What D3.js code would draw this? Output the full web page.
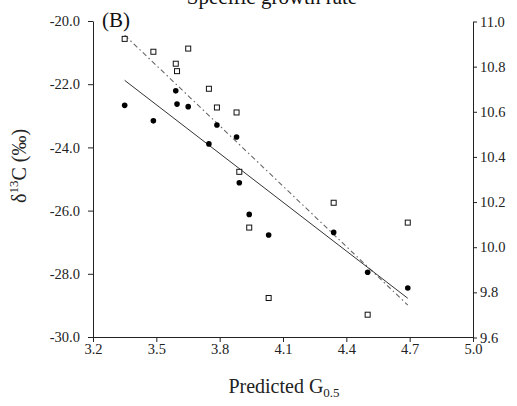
<!DOCTYPE html>
<html lang="en">
    <head>
        <meta charset="utf-8">
        <title>Specific growth rate (B)</title>
        <script type="text/javascript" src="https://d3js.org/d3.v7.min.js"></script>
        <style type="text/css">
            body { margin: 0; background: #fff; }
            text { font-family: "Liberation Serif", "Times New Roman", serif; }
        </style>
    </head>
    <body>
        <script type="text/javascript">

        //Data (one sample per index)
        const predictedG = [3.350, 3.486, 3.592, 3.598, 3.651, 3.749, 3.787, 3.880, 3.893, 3.940, 4.032, 4.340, 4.501, 4.691];
        const d13C       = [-22.67, -23.16, -22.21, -22.63, -22.71, -23.89, -23.29, -23.67, -25.12, -26.12, -26.77, -26.69, -27.95, -28.45];
        const growthRate = [10.923, 10.866, 10.813, 10.780, 10.880, 10.702, 10.619, 10.597, 10.334, 10.087, 9.775, 10.197, 9.701, 10.109];

        //Tick labels
        const xTicks = [3.2, 3.5, 3.8, 4.1, 4.4, 4.7, 5.0];
        const leftTicks = [-20, -22, -24, -26, -28, -30];
        const rightTicks = [9.6, 9.8, 10.0, 10.2, 10.4, 10.6, 10.8, 11.0];

        //Sizes
        const width = 517;
        const height = 406;
        const plotLeft = 93, plotRight = 473, plotTop = 21, plotBottom = 337;

        //Scales
        const xScale = d3.scaleLinear().domain([3.2, 5.0]).range([plotLeft, plotRight]);
        const yLeft = d3.scaleLinear().domain([-30, -20]).range([plotBottom, plotTop]);
        const yRight = d3.scaleLinear().domain([9.6, 11.0]).range([plotBottom + 0.5, plotTop + 0.5]);

        //least squares fit
        function fit(xs, ys) {
            const mx = d3.mean(xs), my = d3.mean(ys);
            let sxy = 0, sxx = 0;
            xs.forEach((x, i) => { sxy += (x - mx) * (ys[i] - my); sxx += (x - mx) * (x - mx); });
            const b = sxy / sxx;
            const a = my - b * mx;
            const ext = d3.extent(xs);
            return ext.map(x => ({x: x, y: a + b * x}));
        }

        //SVG
        const svg = d3.select("body")
                    .append("svg")
                    .attr("width", width)
                    .attr("height", height);

        const fmt = d => d.toFixed(1);

        function styleAxis(g) {
            g.selectAll("text")
                .attr("font-family", "Liberation Serif, Times New Roman, serif")
                .attr("font-size", "14.5px")
                .attr("fill", "#222");
            g.selectAll("path, line").attr("stroke", "#222");
        }

        //Axes
        svg.append("g")
            .attr("transform", "translate(0," + plotBottom + ")")
            .call(d3.axisBottom(xScale).tickValues(xTicks).tickFormat(fmt)
                    .tickSize(5).tickSizeOuter(0).tickPadding(1.5))
            .call(styleAxis);

        svg.append("g")
            .attr("transform", "translate(" + plotLeft + ",0)")
            .call(d3.axisLeft(yLeft).tickValues(leftTicks).tickFormat(fmt)
                    .tickSize(5).tickSizeOuter(0).tickPadding(8))
            .call(styleAxis);

        svg.append("g")
            .attr("transform", "translate(" + plotRight + ",0)")
            .call(d3.axisRight(yRight).tickValues(rightTicks).tickFormat(fmt)
                    .tickSize(4).tickSizeOuter(0).tickPadding(3))
            .call(styleAxis);

        //Regression lines
        const lineLeft = d3.line().x(d => xScale(d.x)).y(d => yLeft(d.y));
        const lineRight = d3.line().x(d => xScale(d.x)).y(d => yRight(d.y));

        svg.append("path")
            .attr("d", lineRight(fit(predictedG, growthRate)))
            .attr("fill", "none")
            .attr("stroke", "#666")
            .attr("stroke-width", 1.1)
            .attr("stroke-dasharray", "5,3,1.5,3");

        svg.append("path")
            .attr("d", lineLeft(fit(predictedG, d13C)))
            .attr("fill", "none")
            .attr("stroke", "#333")
            .attr("stroke-width", 1);

        //Points
        svg.selectAll("rect.sq")
            .data(predictedG)
            .enter()
            .append("rect")
            .attr("class", "sq")
            .attr("x", (d, i) => xScale(d) - 2.5)
            .attr("y", (d, i) => yRight(growthRate[i]) - 2.5)
            .attr("width", 5)
            .attr("height", 5)
            .attr("fill", "#fff")
            .attr("stroke", "#111")
            .attr("stroke-width", 1);

        svg.selectAll("circle")
            .data(predictedG)
            .enter()
            .append("circle")
            .attr("cx", d => xScale(d))
            .attr("cy", (d, i) => yLeft(d13C[i]))
            .attr("r", 2.8)
            .attr("fill", "#000");

        //Titles
        svg.append("text")
            .attr("x", 272)
            .attr("y", 4)
            .attr("text-anchor", "middle")
            .attr("font-size", "21px")
            .attr("fill", "#111")
            .text("Specific growth rate");

        svg.append("text")
            .attr("x", 102)
            .attr("y", 27)
            .attr("font-size", "21px")
            .attr("fill", "#111")
            .text("(B)");

        const yTitle = svg.append("text")
            .attr("transform", "translate(26,166) rotate(-90)")
            .attr("text-anchor", "middle")
            .attr("font-size", "20px")
            .attr("fill", "#222");
        yTitle.append("tspan").text("\u03b4");
        yTitle.append("tspan").attr("font-size", "13px").attr("dy", -8).text("13");
        yTitle.append("tspan").attr("dy", 8).text("C (\u2030)");

        const xTitle = svg.append("text")
            .attr("x", 284)
            .attr("y", 393)
            .attr("text-anchor", "middle")
            .attr("font-size", "20px")
            .attr("fill", "#222");
        xTitle.append("tspan").text("Predicted G");
        xTitle.append("tspan").attr("font-size", "13px").attr("dy", 4).text("0.5");

        </script>
    </body>
</html>
